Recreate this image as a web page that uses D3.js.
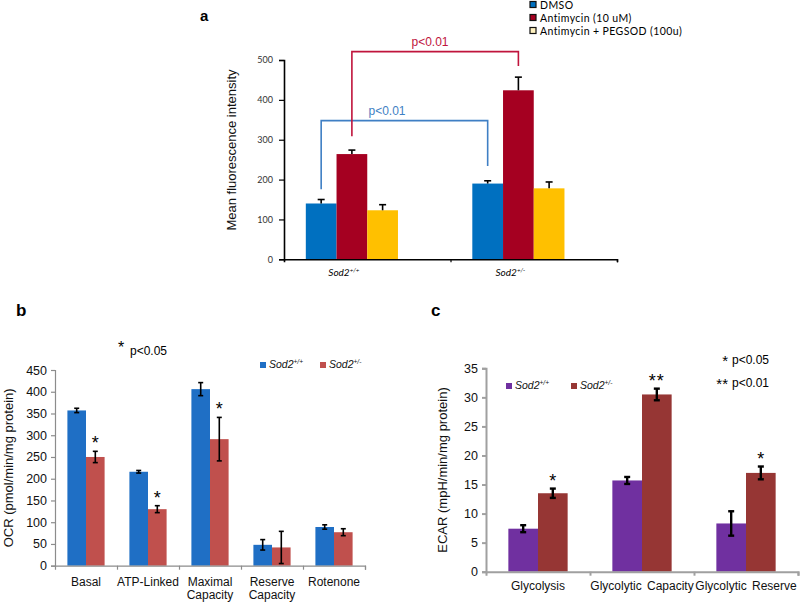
<!DOCTYPE html>
<html><head><meta charset="utf-8">
<script src="https://cdn.jsdelivr.net/npm/d3@7/dist/d3.min.js"></script>
<style>body{margin:0;background:#fff}svg{display:block}</style>
</head><body>
<svg id="chart" width="800" height="602"></svg>
<script>
// ---------- Panel a data ----------
const aCategories = ["Sod2|+/+", "Sod2|+/-"];
const aSeriesNames = ["DMSO", "Antimycin (10 uM)", "Antimycin + PEGSOD (100u)"];
const aDMSO = [140, 190];
const aDMSOErr = [10, 7];
const aAntimycin = [264, 424];
const aAntimycinErr = [10, 33];
const aPEGSOD = [123, 178];
const aPEGSODErr = [14, 16];
const aTicks = [0, 100, 200, 300, 400, 500];
// significance brackets: series index, bar level, left foot, right foot (data units)
const aBracketSeries = [0, 1];
const aBracketLevel = [348, 521];
const aBracketLeftFoot = [176, 309];
const aBracketRightFoot = [234, 485];
const aBracketLabel = ["p<0.01", "p<0.01"];

// ---------- Panel b data ----------
const bCategories = [["Basal"], ["ATP-Linked"], ["Maximal", "Capacity"], ["Reserve", "Capacity"], ["Rotenone"]];
const bWT = [357, 216, 406, 48, 89];
const bWTErr = [5, 3, 15, 12, 5];
const bHet = [250, 130, 291, 42, 77];
const bHetErr = [13, 8, 50, 37, 8];
const bSig = ["*", "*", "*", "", ""];
const bTicks = [0, 50, 100, 150, 200, 250, 300, 350, 400, 450];

// ---------- Panel c data ----------
const cCategories = ["Glycolysis", "Glycolytic Capacity", "Glycolytic Reserve"];
const cWT = [7.4, 15.7, 8.3];
const cWTErr = [0.6, 0.6, 2.1];
const cHet = [13.5, 30.5, 17.0];
const cHetErr = [0.8, 1.0, 1.1];
const cSig = ["*", "**", "*"];
const cTicks = [0, 5, 10, 15, 20, 25, 30, 35];

const genotypeLabels = [["Sod2", "+/+"], ["Sod2", "+/-"]];

const svg = d3.select("#chart");
const ARIAL = "'Liberation Sans', Arial, sans-serif";
const CALIBRI = "Lato, 'Open Sans', sans-serif";

function supText(sel, base, sup, size) {
  sel.append("tspan").text(base);
  sel.append("tspan").attr("dy", -size * 0.38).attr("font-size", size * 0.62).text(sup);
}

// =============== Panel a ===============
(function () {
  const g = svg.append("g");
  const x0 = 284, x1 = 617, yB = 259.3, yT = 60;
  const y = d3.scaleLinear().domain([0, 500]).range([yB, yT]);
  const x = d3.scaleBand().domain(aCategories).range([x0, x1]).paddingInner(0.262).paddingOuter(0.131);
  const slots = d3.scaleBand().domain([0, 1, 2, 3]).range([0, x.bandwidth()]);
  const colors = ["#0070C0", "#A50021", "#FFC000"];
  const series = [
    { v: aDMSO, e: aDMSOErr },
    { v: aAntimycin, e: aAntimycinErr },
    { v: aPEGSOD, e: aPEGSODErr }
  ];
  const cx = (s, i) => x(aCategories[i]) + slots(s) + slots.bandwidth() / 2;

  series.forEach((s, si) => {
    g.selectAll(null).data(s.v).enter().append("rect")
      .attr("x", (d, i) => x(aCategories[i]) + slots(si))
      .attr("width", slots.bandwidth())
      .attr("y", d => y(d)).attr("height", d => yB - y(d))
      .attr("fill", colors[si]);
    s.v.forEach((d, i) => {
      const c = cx(si, i);
      g.append("line").attr("x1", c).attr("x2", c).attr("y1", y(d)).attr("y2", y(d + s.e[i]))
        .attr("stroke", "#000").attr("stroke-width", 1.6);
      g.append("line").attr("x1", c - 3.5).attr("x2", c + 3.5).attr("y1", y(d + s.e[i])).attr("y2", y(d + s.e[i]))
        .attr("stroke", "#000").attr("stroke-width", 1.6);
    });
  });

  const yAxis = d3.axisLeft(y).tickValues(aTicks).tickSize(5).tickPadding(6);
  const ya = g.append("g").attr("transform", `translate(${x0},0)`).call(yAxis);
  ya.select(".domain").attr("stroke", "#000").attr("stroke-width", 1.6);
  ya.selectAll(".tick line").attr("stroke", "#000").attr("stroke-width", 1.2);
  ya.selectAll("text").attr("font-family", CALIBRI).attr("font-size", 9).attr("fill", "#333");
  const xa = g.append("g").attr("transform", `translate(0,${yB})`)
    .call(d3.axisBottom(d3.scaleLinear().domain([0, 2]).range([x0, x1])).tickValues([1, 2]).tickSize(3).tickFormat(""));
  xa.select(".domain").attr("stroke", "#000").attr("stroke-width", 1.6);
  xa.selectAll(".tick line").attr("stroke", "#000").attr("stroke-width", 1.2);

  aCategories.forEach((c, i) => {
    const t = g.append("text").attr("x", cx(1, i) - 8).attr("y", 276)
      .attr("text-anchor", "middle").attr("font-family", CALIBRI).attr("font-style", "italic")
      .attr("font-size", 10).attr("fill", "#000");
    supText(t, genotypeLabels[i][0], genotypeLabels[i][1], 10);
  });

  g.append("text").attr("transform", `translate(236,150) rotate(-90)`)
    .attr("text-anchor", "middle").attr("font-family", ARIAL).attr("font-size", 13).attr("fill", "#111")
    .text("Mean fluorescence intensity");

  const brColors = ["#3F7FC4", "#C0143C"];
  const labelPos = [387, 430];
  const labelY = [115, 46];
  aBracketSeries.forEach((s, k) => {
    const xl = cx(s, 0), xr = cx(s, 1);
    const path = d3.path();
    path.moveTo(xl, y(aBracketLeftFoot[k]));
    path.lineTo(xl, y(aBracketLevel[k]));
    path.lineTo(xr, y(aBracketLevel[k]));
    path.lineTo(xr, y(aBracketRightFoot[k]));
    g.append("path").attr("d", path.toString()).attr("fill", "none")
      .attr("stroke", brColors[k]).attr("stroke-width", 1.6);
    g.append("text").attr("x", labelPos[k]).attr("y", labelY[k]).attr("text-anchor", "middle")
      .attr("font-family", ARIAL).attr("font-size", 12).attr("fill", brColors[k]).text(aBracketLabel[k]);
  });

  const lg = g.append("g");
  aSeriesNames.forEach((n, i) => {
    const yy = 5 + i * 13;
    lg.append("rect").attr("x", 530).attr("y", yy - 3.5).attr("width", 6).attr("height", 6)
      .attr("fill", i === 2 ? "#FFF2C0" : colors[i]).attr("stroke", "#111").attr("stroke-width", 1.2);
    lg.append("text").attr("x", 540).attr("y", yy + 3.5).attr("font-family", CALIBRI).attr("font-size", 10.5)
      .attr("letter-spacing", 0.4).attr("fill", "#000").text(n);
  });

  g.append("text").attr("x", 200).attr("y", 21).attr("font-family", ARIAL).attr("font-weight", "bold")
    .attr("font-size", 15).text("a");
})();

// =============== Generic grouped panel (b, c) ===============
function groupedPanel(opt) {
  const g = svg.append("g");
  const y = d3.scaleLinear().domain(opt.domain).range([opt.yB, opt.yT]);
  const x = d3.scaleBand().domain(d3.range(opt.cats.length)).range([opt.x0, opt.x1])
    .paddingInner(opt.pad).paddingOuter(opt.pad / 2);
  const sub = d3.scaleBand().domain([0, 1]).range([0, x.bandwidth()]);
  const series = [{ v: opt.wt, e: opt.wtErr }, { v: opt.het, e: opt.hetErr }];

  series.forEach((s, si) => {
    g.selectAll(null).data(s.v).enter().append("rect")
      .attr("x", (d, i) => x(i) + sub(si)).attr("width", sub.bandwidth())
      .attr("y", d => y(d)).attr("height", d => opt.yB - y(d)).attr("fill", opt.colors[si]);
  });
  series.forEach((s, si) => {
    s.v.forEach((d, i) => {
      const c = x(i) + sub(si) + sub.bandwidth() / 2;
      const lo = y(d - s.e[i]), hi = y(d + s.e[i]);
      g.append("line").attr("x1", c).attr("x2", c).attr("y1", lo).attr("y2", hi)
        .attr("stroke", "#000").attr("stroke-width", opt.ebw);
      [lo, hi].forEach(yy => g.append("line").attr("x1", c - opt.cap).attr("x2", c + opt.cap)
        .attr("y1", yy).attr("y2", yy).attr("stroke", "#000").attr("stroke-width", opt.ebw));
    });
  });
  opt.sig.forEach((sg, i) => {
    if (!sg) return;
    const c = x(i) + sub(1) + sub.bandwidth() / 2;
    g.append("text").attr("x", c).attr("y", y(opt.het[i] + opt.hetErr[i]) - 2)
      .attr("text-anchor", "middle").attr("font-family", ARIAL).attr("font-size", 18)
      .attr("letter-spacing", sg.length > 1 ? 1 : 0).text(sg);
  });

  const ya = g.append("g").attr("transform", `translate(${opt.x0},0)`)
    .call(d3.axisLeft(y).tickValues(opt.ticks).tickSize(4).tickPadding(4));
  ya.select(".domain").attr("stroke", opt.axisColor).attr("stroke-width", opt.axw);
  ya.selectAll(".tick line").attr("stroke", opt.axisColor).attr("stroke-width", opt.axw);
  ya.selectAll("text").attr("font-family", ARIAL).attr("font-size", 12.5).attr("fill", "#111");

  const bnd = d3.scaleLinear().domain([0, opt.cats.length]).range([opt.x0, opt.x1]);
  const xa = g.append("g").attr("transform", `translate(0,${opt.yB})`)
    .call(d3.axisBottom(bnd).tickValues(d3.range(1, opt.cats.length + 1)).tickSize(4).tickFormat(""));
  xa.select(".domain").attr("stroke", opt.axisColor).attr("stroke-width", opt.axw);
  xa.selectAll(".tick line").attr("stroke", opt.axisColor).attr("stroke-width", opt.axw);

  opt.cats.forEach((c, i) => {
    const lines = Array.isArray(c) ? c : [c];
    lines.forEach((ln, k) => {
      g.append("text").attr("x", x(i) + x.bandwidth() / 2).attr("y", opt.labelY + k * 12.5)
        .attr("text-anchor", "middle").attr("font-family", ARIAL).attr("font-size", 12)
        .attr("word-spacing", opt.wordSpacing || 0).attr("fill", "#111").text(ln);
    });
  });

  g.append("text").attr("transform", `translate(${opt.titleX},${(opt.yB + opt.yT) / 2}) rotate(-90)`)
    .attr("text-anchor", "middle").attr("font-family", ARIAL).attr("font-size", 13).attr("fill", "#111")
    .text(opt.title);

  opt.legend.forEach((lx, i) => {
    g.append("rect").attr("x", lx).attr("y", opt.legendY - 6).attr("width", 6).attr("height", 6)
      .attr("fill", opt.colors[i]);
    const t = g.append("text").attr("x", lx + 9).attr("y", opt.legendY).attr("font-family", ARIAL)
      .attr("font-style", "italic").attr("font-size", 10.5).attr("fill", "#111");
    supText(t, genotypeLabels[i][0], genotypeLabels[i][1], 10.5);
  });

  g.append("text").attr("x", opt.panelX).attr("y", opt.panelY).attr("font-family", ARIAL)
    .attr("font-weight", "bold").attr("font-size", 17).text(opt.panel);
  return g;
}

const gb = groupedPanel({
  cats: bCategories, wt: bWT, wtErr: bWTErr, het: bHet, hetErr: bHetErr, sig: bSig,
  domain: [0, 450], ticks: bTicks, x0: 55, x1: 365, yB: 565.7, yT: 370, pad: 0.4,
  colors: ["#1F6FC5", "#C0504D"], ebw: 1.6, cap: 2.5, axisColor: "#8C8C8C", axw: 1.2,
  labelY: 586, title: "OCR (pmol/min/mg protein)", titleX: 13,
  legend: [260, 320], legendY: 368, panel: "b", panelX: 16, panelY: 316
});
gb.append("text").attr("x", 118).attr("y", 353).attr("font-family", ARIAL).attr("font-size", 16).text("*");
gb.append("text").attr("x", 130).attr("y", 355).attr("font-family", ARIAL).attr("font-size", 12).text("p<0.05");

const gc = groupedPanel({
  cats: cCategories, wt: cWT, wtErr: cWTErr, het: cHet, hetErr: cHetErr, sig: cSig,
  domain: [0, 35], ticks: cTicks, x0: 486, x1: 798, yB: 571.7, yT: 368.3, pad: 0.43,
  colors: ["#7030A0", "#963634"], ebw: 2.4, cap: 3, axisColor: "#A0A0A0", axw: 2,
  labelY: 590, wordSpacing: 2, title: "ECAR (mpH/min/mg protein)", titleX: 447,
  legend: [506, 571], legendY: 389, panel: "c", panelX: 431, panelY: 316
});
gc.append("text").attr("x", 728).attr("y", 366).attr("text-anchor", "end").attr("font-family", ARIAL).attr("font-size", 15).text("*");
gc.append("text").attr("x", 732).attr("y", 364).attr("font-family", ARIAL).attr("font-size", 12).text("p<0.05");
gc.append("text").attr("x", 728).attr("y", 389).attr("text-anchor", "end").attr("font-family", ARIAL).attr("font-size", 15).text("**");
gc.append("text").attr("x", 732).attr("y", 387).attr("font-family", ARIAL).attr("font-size", 12).text("p<0.01");
</script>
</body></html>
